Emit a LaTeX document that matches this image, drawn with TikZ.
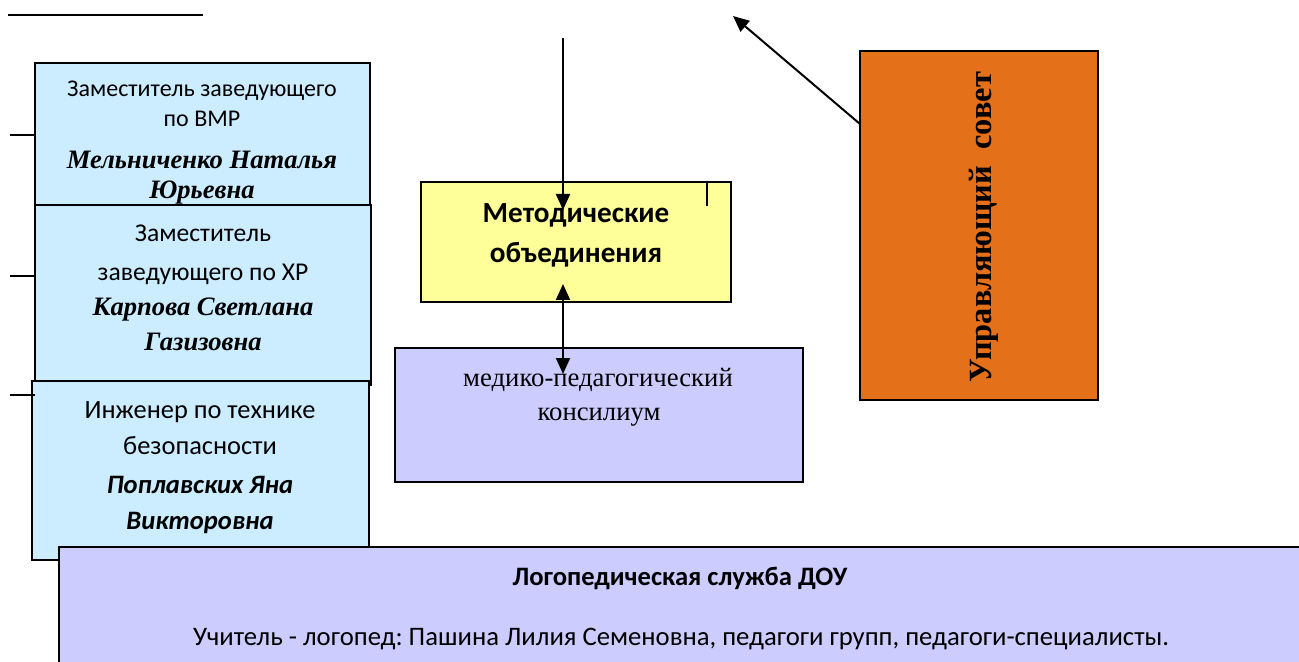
\documentclass[tikz,border=0pt]{standalone}
\usepackage{fontspec}
\setmainfont{Liberation Serif}
\newfontfamily\calfont{Carlito}
\IfFontExistsTF{Liberation Serif Bold Italic}{\newfontfamily\tbifont{Liberation Serif Bold Italic}}{\newfontfamily\tbifont{Liberation Serif Bold}[FakeSlant=0.2]}
\usetikzlibrary{arrows.meta,calc}
\frenchspacing
\definecolor{lblue}{HTML}{CCECFF}
\definecolor{lyel}{HTML}{FFFF99}
\definecolor{lpur}{HTML}{CCCCFF}
\definecolor{orng}{HTML}{E5701A}
\tikzset{
  box/.style={draw=black, line width=1pt, anchor=north west, inner sep=0pt, outer sep=0pt},
  txt/.style={anchor=mid, inner sep=0pt},
  conn/.style={line width=1pt},
  arr/.style={line width=1pt, -{Triangle[length=8pt,width=7pt]}},
  darr/.style={line width=1pt, {Triangle[length=8pt,width=7pt]}-{Triangle[length=8pt,width=7pt]}},
  tbi/.style={font=\tbifont\fontsize{13.3}{15}\selectfont},
}
\begin{document}
\begin{tikzpicture}[x=0.5pt,y=-0.5pt]
\useasboundingbox (0,0) rectangle (1299,662);
% top-left line
\coordinate (tl1) at (8,15);
\coordinate (tl2) at (203,15);
\draw[conn] (tl1) -- (tl2);
% box 1
\node[box, fill=lblue, minimum width=167.5pt, minimum height=73.5pt] (b1) at (35,63) {};
\node[txt, font=\calfont\fontsize{12}{14}\selectfont] (b1a) at (202,92) {Заместитель заведующего};
\node[txt, font=\calfont\fontsize{12}{14}\selectfont] (b1b) at (202,122) {по ВМР};
\node[txt, tbi] (b1c) at (202,164) {Мельниченко Наталья};
\node[txt, tbi] (b1d) at (202,194) {Юрьевна};
% box 2
\node[box, fill=lblue, minimum width=168pt, minimum height=90pt] (b2) at (35,205) {};
\node[txt, font=\calfont\fontsize{12.8}{14}\selectfont] (b2a) at (203,237) {Заместитель};
\node[txt, font=\calfont\fontsize{12.8}{14}\selectfont] (b2b) at (203,276) {заведующего по ХР};
\node[txt, tbi] (b2c) at (203,311) {Карпова Светлана};
\node[txt, tbi] (b2d) at (203,346) {Газизовна};
% box 3
\node[box, fill=lblue, minimum width=168.5pt, minimum height=89.5pt] (b3) at (32,381) {};
\node[txt, font=\calfont\fontsize{13.2}{15}\selectfont] (b3a) at (200,414) {Инженер по технике};
\node[txt, font=\calfont\fontsize{13.2}{15}\selectfont] (b3b) at (200,450) {безопасности};
\node[txt, font=\calfont\bfseries\itshape\fontsize{13.3}{15}\selectfont] (b3c) at (200,489) {Поплавских Яна};
\node[txt, font=\calfont\bfseries\itshape\fontsize{13.3}{15}\selectfont] (b3d) at (200,525) {Викторовна};
% left ticks
\draw[conn] ($(b1.north west)+(0,72)$) -- +(-25,0);
\draw[conn] ($(b2.north west)+(0,71)$) -- +(-25,0);
\draw[conn] ($(b3.north west)+(3,14)$) -- +(-25,0);
% yellow box
\node[box, fill=lyel, minimum width=155pt, minimum height=60pt] (yb) at (421,182) {};
\node[txt, font=\calfont\bfseries\fontsize{14.6}{16}\selectfont] (yba) at (576,218) {Методические};
\node[txt, font=\calfont\bfseries\fontsize{14.6}{16}\selectfont] (ybb) at (576,258) {объединения};
\draw[conn] ($(yb.north east)+(-24,0)$) -- +(0,24);
% medical box
\node[box, fill=lpur, minimum width=204pt, minimum height=67pt] (mb) at (395,348) {};
\node[txt, font=\fontsize{13.35}{15}\selectfont] (mba) at (598,382) {медико-педагогический};
\node[txt, font=\fontsize{13.35}{15}\selectfont] (mbb) at (599,416) {консилиум};
% orange box
\node[box, fill=orng, minimum width=119pt, minimum height=174.5pt] (ub) at (860,51) {};
\node[txt, rotate=90, font=\bfseries\fontsize{16.2}{18}\selectfont] (uba) at (987,227) {Управляющий\ \ совет};
% bottom box
\node[box, fill=lpur, minimum width=625.5pt, minimum height=66.5pt] (lb) at (59,547) {};
\node[txt, font=\calfont\bfseries\fontsize{13.3}{15}\selectfont] (lba) at (680,581) {Логопедическая служба ДОУ};
\node[txt, font=\calfont\fontsize{13.35}{15}\selectfont] (lbb) at (681,641) {Учитель - логопед: Пашина Лилия Семеновна, педагоги групп, педагоги-специалисты.};
% arrows
\coordinate (ta) at (563,38);
\draw[arr] (ta) -- ($(yb.north west)+(142,28)$);
\draw[darr] ($(yb.north west)+(142,102)$) -- ($(mb.north west)+(168,26)$);
\coordinate (ua) at (733,16);
\draw[arr] ($(ub.north west)+(0,73)$) -- (ua);
\end{tikzpicture}
\end{document}
